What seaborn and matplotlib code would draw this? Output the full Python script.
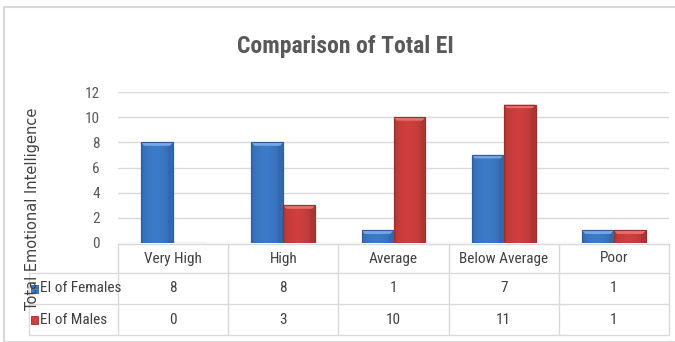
import matplotlib
matplotlib.use("Agg")
import matplotlib.pyplot as plt
import matplotlib.transforms as mtransforms
from matplotlib import font_manager
from matplotlib.colors import to_rgb
from matplotlib.patches import Rectangle, Polygon
import numpy as np
import seaborn as sns
import pandas as pd

# Data
categories = ["Very High", "High", "Average", "Below Average", "Poor"]
series_names = ["EI of Females", "EI of Males"]
females = [8, 8, 1, 7, 1]
males = [0, 3, 10, 11, 1]
y_ticks = [0, 2, 4, 6, 8, 10, 12]

title_text = "Comparison of Total EI"
y_label = "Total Emotional Intelligence"

df = pd.DataFrame({
    "category": categories * 2,
    "series": [series_names[0]] * len(categories) + [series_names[1]] * len(categories),
    "value": females + males,
})


def first_available(candidates):
    names = {f.name for f in font_manager.fontManager.ttflist}
    for c in candidates:
        if c in names:
            return c
    return "DejaVu Sans"


narrow_font = first_available(["Liberation Sans Narrow", "DejaVu Sans Condensed",
                               "Roboto Condensed", "Open Sans Condensed", "Roboto"])

sns.set_theme(style="white")
plt.rcParams["font.family"] = [narrow_font, "DejaVu Sans"]

W, H = 675, 342
fig = plt.figure(figsize=(W / 100, H / 100), dpi=100)

# Outer chart frame
fig.patches.append(Rectangle((4 / W, 0), 2, 1 - 7 / H, transform=fig.transFigure,
                             fill=False, edgecolor="#d9d9d9", linewidth=1.5))

left_px, right_px, top_px, bot_px = 118, 669, 92, 243
ax = fig.add_axes([left_px / W, 1 - bot_px / H, (right_px - left_px) / W, (bot_px - top_px) / H])

face = {"EI of Females": "#3d7bc9", "EI of Males": "#d03f3e"}
edge = {"EI of Females": "#2e5e9e", "EI of Males": "#9a302e"}
light = {"EI of Females": "#7fb0ee", "EI of Males": "#ec7a78"}

sns.barplot(data=df, x="category", y="value", hue="series", order=categories,
            hue_order=series_names, palette=face, width=0.58, gap=0,
            legend=False, ax=ax, zorder=3, saturation=1)


def shade(c1, c2, t):
    a, b = np.array(to_rgb(c1)), np.array(to_rgb(c2))
    return a + (b - a) * t


# Bevelled, shaded bar faces
for cont, name in zip(ax.containers, series_names):
    for bar in cont:
        bar.set_edgecolor(edge[name])
        bar.set_linewidth(0.8)
        x0, y0, w, h = bar.get_x(), bar.get_y(), bar.get_width(), bar.get_height()
        if h <= 0:
            continue
        t = np.linspace(0, 1, 40)
        prof = 0.35 + 0.65 * np.clip(1 - np.abs(t - 0.45) * 2.4, 0, 1) ** 0.35
        grad = np.array([shade(edge[name], face[name], p) for p in prof])[None, :, :]
        im = ax.imshow(grad, extent=[x0, x0 + w, y0, y0 + h], aspect="auto",
                       zorder=3.2, interpolation="bilinear")
        im.set_clip_path(bar)
        d = min(0.28, h * 0.3)
        ins = w * 0.1
        ax.add_patch(Polygon([(x0, y0 + h), (x0 + w, y0 + h), (x0 + w - ins, y0 + h - d),
                              (x0 + ins, y0 + h - d)], closed=True,
                             facecolor=light[name], edgecolor="none", zorder=3.4, alpha=0.85))
        ax.add_patch(Rectangle((x0, y0), w, h, fill=False, edgecolor=edge[name],
                               linewidth=0.8, zorder=3.5))

ax.set_xlim(-0.5, len(categories) - 0.5)
ax.set_ylim(0, 12)
ax.set_yticks(y_ticks)
ax.set_yticklabels([str(t) for t in y_ticks], color="#595959", fontsize=11)
ax.tick_params(axis="y", length=0, pad=13)
ax.set_xticks([])
ax.set_xlabel("")
ax.set_ylabel("")
for s in ax.spines.values():
    s.set_visible(False)
ax.yaxis.grid(True, color="#d9d9d9", linewidth=1)
ax.set_axisbelow(True)

# Data table under the plot
tr = mtransforms.blended_transform_factory(ax.transData, fig.transFigure)
fy = lambda px: 1 - px / H
line_kw = dict(color="#d9d9d9", linewidth=1, transform=tr, clip_on=False)
row_edges = [244, 273, 304, 335]
label_left = -0.5 - (left_px - 29) / ((right_px - left_px) / len(categories))
n = len(categories)

ax.plot([-0.5, n - 0.5], [fy(row_edges[0])] * 2, **line_kw)
for y in row_edges[1:]:
    ax.plot([label_left, n - 0.5], [fy(y)] * 2, **line_kw)
for i in range(n + 1):
    ax.plot([i - 0.5, i - 0.5], [fy(row_edges[0]), fy(row_edges[-1])], **line_kw)
ax.plot([label_left, label_left], [fy(row_edges[1]), fy(row_edges[-1])], **line_kw)

txt_kw = dict(transform=tr, ha="center", va="center", color="#404040", fontsize=11)
row_mid = [(row_edges[k] + row_edges[k + 1]) / 2 for k in range(3)]
for i, c in enumerate(categories):
    ax.text(i, fy(row_mid[0]), c, **txt_kw)
    ax.text(i, fy(row_mid[1]), str(females[i]), **txt_kw)
    ax.text(i, fy(row_mid[2]), str(males[i]), **txt_kw)

# Row labels with legend keys
for name, ym in zip(series_names, row_mid[1:]):
    fig.patches.append(Rectangle((31 / W, fy(ym + 4)), 7 / W, 8 / H, transform=fig.transFigure,
                                 facecolor=face[name], edgecolor=edge[name], linewidth=0.6))
    fig.text(40 / W, fy(ym), name, ha="left", va="center", color="#404040", fontsize=11)

fig.text(345 / W, fy(47), title_text, ha="center", va="center", color="#595959",
         fontsize=17, fontweight="bold")
fig.text(33 / W, fy(209), y_label, rotation=90, ha="center", va="center",
         color="#404040", fontsize=10.5, family=["DejaVu Sans"])

fig.savefig("out.png", dpi=100)
